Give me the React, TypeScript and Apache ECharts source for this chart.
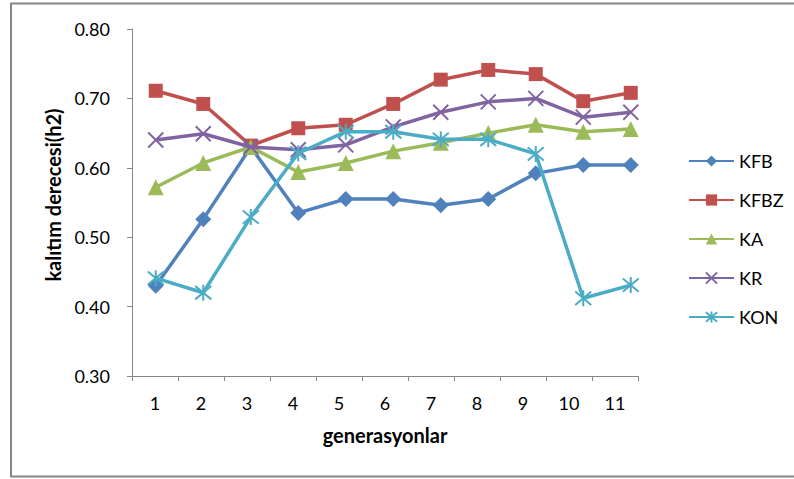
import React, { useEffect, useRef } from "react";
import * as echarts from "echarts";

const categories = ["1", "2", "3", "4", "5", "6", "7", "8", "9", "10", "11"];
const yTicks = { min: 0.3, max: 0.8, interval: 0.1 };

const KFB = [0.43, 0.526, 0.63, 0.535, 0.555, 0.555, 0.546, 0.555, 0.592, 0.604, 0.604];
const KFBZ = [0.711, 0.692, 0.632, 0.657, 0.662, 0.692, 0.727, 0.741, 0.735, 0.696, 0.708];
const KA = [0.572, 0.607, 0.63, 0.594, 0.607, 0.624, 0.636, 0.65, 0.662, 0.652, 0.656];
const KR = [0.64, 0.649, 0.63, 0.626, 0.633, 0.659, 0.68, 0.695, 0.7, 0.673, 0.68];
const KON = [0.441, 0.42, 0.529, 0.621, 0.652, 0.652, 0.641, 0.641, 0.62, 0.412, 0.431];

const seriesNames = ["KFB", "KFBZ", "KA", "KR", "KON"];
const seriesData = [KFB, KFBZ, KA, KR, KON];
const colors = ["#4F81BD", "#C0504D", "#9BBB59", "#8064A2", "#4BACC6"];

const X_PATH = "path://M0,0L10,10M10,0L0,10";
const STAR_PATH = "path://M0,0L10,10M10,0L0,10M5,-1L5,11";
const symbols = ["diamond", "rect", "triangle", X_PATH, STAR_PATH];
const symbolSizes = [16, 14, 16, 15, 16];

const FONT = "Lato";

export default function App() {
  const ref = useRef<HTMLDivElement>(null);

  useEffect(() => {
    if (!ref.current) return;
    const chart = echarts.init(ref.current, undefined, { renderer: "svg" });

    const series = seriesNames.map((name, i) => {
      const isStroke = i >= 3;
      return {
        name,
        type: "line",
        xAxisIndex: 1,
        yAxisIndex: 1,
        data: seriesData[i],
        symbol: symbols[i],
        symbolSize: symbolSizes[i],
        showAllSymbol: true,
        lineStyle: { color: colors[i], width: 3.5 },
        itemStyle: {
          color: colors[i],
          borderColor: colors[i],
          borderWidth: isStroke ? 2 : 0,
          opacity: 1,
        },
        z: 2 + i,
      };
    });

    chart.setOption({
      animation: false,
      backgroundColor: "#ffffff",
      textStyle: { fontFamily: FONT },
      grid: [
        { left: 132, top: 29, width: 506, height: 347 },
        { left: 132, top: 29, width: 522.5, height: 347 },
      ],
      xAxis: [
        {
          type: "category",
          gridIndex: 0,
          data: categories,
          boundaryGap: true,
          axisLine: { show: true, lineStyle: { color: "#868686", width: 1 } },
          axisTick: { show: true, interval: 0, length: 5, lineStyle: { color: "#868686" } },
          axisLabel: { margin: 18, fontSize: 18, color: "#000", fontFamily: FONT },
          splitLine: { show: false },
          name: "generasyonlar",
          nameLocation: "middle",
          nameGap: 49,
          nameTextStyle: { fontSize: 20, fontWeight: "bold", color: "#000", fontFamily: FONT },
        },
        {
          type: "category",
          gridIndex: 1,
          data: categories,
          boundaryGap: true,
          show: false,
        },
      ],
      yAxis: [
        {
          type: "value",
          gridIndex: 0,
          min: yTicks.min,
          max: yTicks.max,
          interval: yTicks.interval,
          axisLine: { show: true, lineStyle: { color: "#868686", width: 1 } },
          axisTick: { show: true, length: 5, lineStyle: { color: "#868686" } },
          axisLabel: {
            margin: 22,
            fontSize: 18,
            color: "#000",
            fontFamily: FONT,
            formatter: (v: number) => v.toFixed(2),
          },
          splitLine: { show: false },
        },
        {
          type: "value",
          gridIndex: 1,
          min: yTicks.min,
          max: yTicks.max,
          interval: yTicks.interval,
          show: false,
          splitLine: { show: false },
        },
      ],
      legend: {
        orient: "vertical",
        left: 688,
        top: 152,
        padding: 0,
        itemWidth: 45,
        itemHeight: 14,
        itemGap: 21,
        textStyle: { fontSize: 18, color: "#000", fontFamily: FONT },
        data: seriesNames,
      },
      graphic: [
        {
          type: "rect",
          shape: { x: 11, y: 3.5, width: 800, height: 473 },
          style: { fill: "none", stroke: "#868686", lineWidth: 2 },
          silent: true,
          z: 100,
        },
        {
          type: "text",
          x: 53,
          y: 195,
          rotation: Math.PI / 2,
          style: {
            text: "kalıtım derecesi(h2)",
            fontFamily: FONT,
            fontSize: 20,
            fontWeight: "bold",
            fill: "#000",
            textAlign: "center",
            textVerticalAlign: "middle",
          },
        },
      ],
      series,
    });

    return () => chart.dispose();
  }, []);

  return (
    <div
      ref={ref}
      style={{ position: "fixed", left: 0, top: 0, width: 794, height: 479 }}
    />
  );
}
